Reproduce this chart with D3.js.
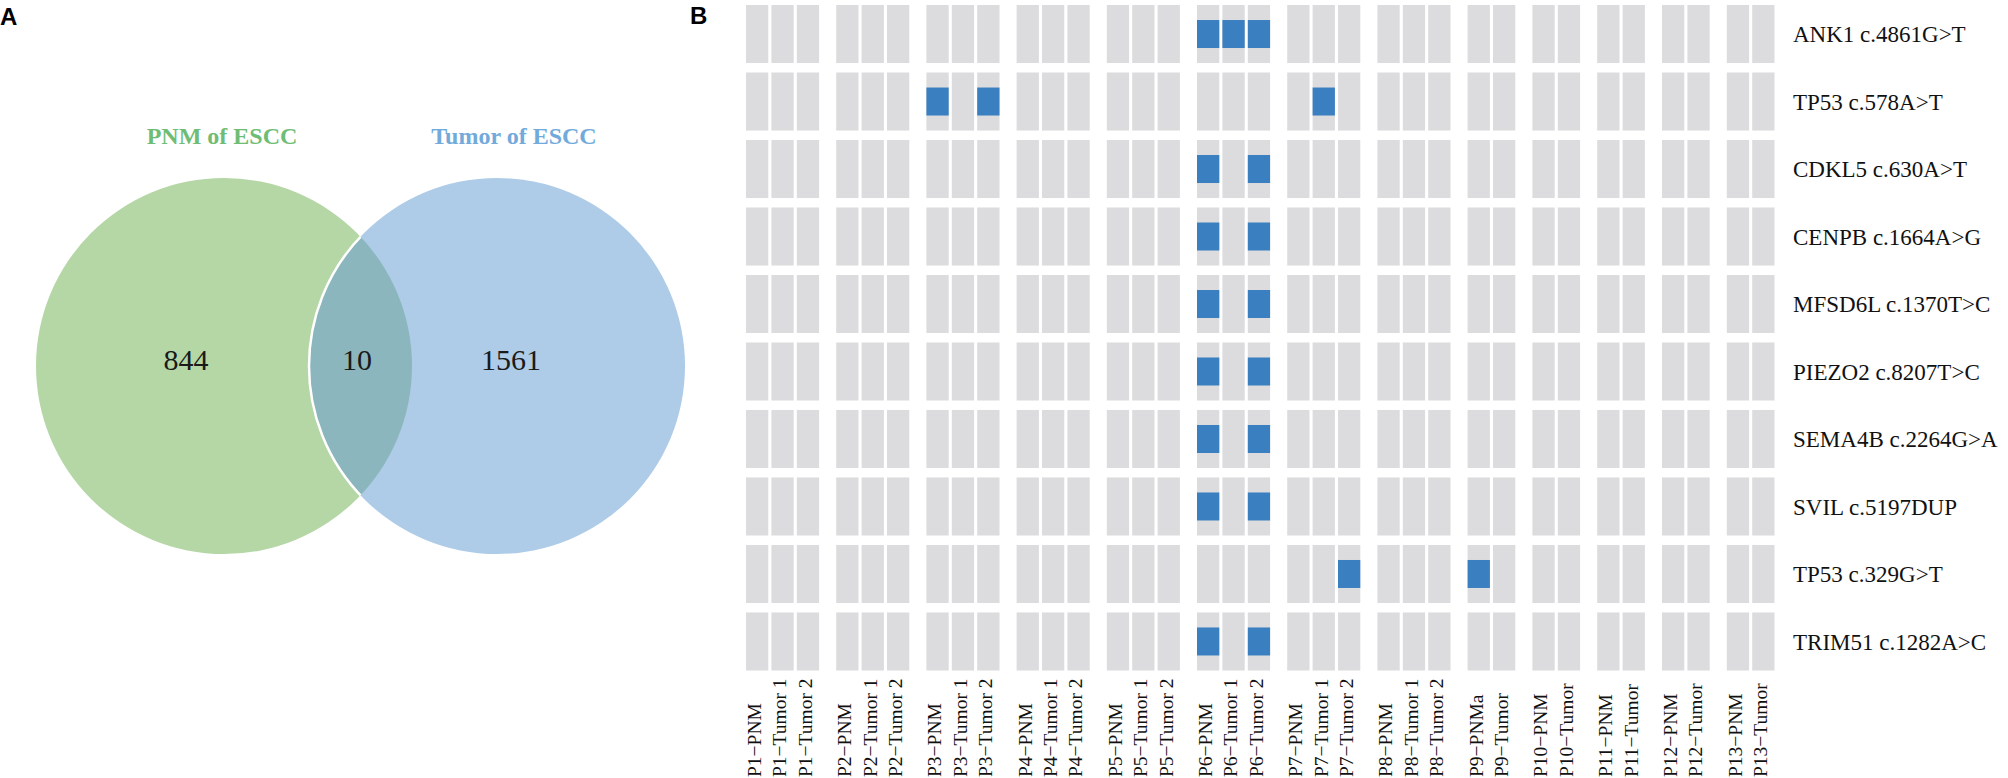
<!DOCTYPE html>
<html><head><meta charset="utf-8">
<script src="https://cdn.jsdelivr.net/npm/d3@7"></script>
<style>body{margin:0;background:#fff;overflow:hidden}</style>
</head><body>
<svg id="c" width="2008" height="778"></svg>
<script>
// ---- Data ----
const vennSets = ["PNM of ESCC", "Tumor of ESCC"];
const vennRegions = ["PNM only", "Both", "Tumor only"];
const vennCounts = [844, 10, 1561];

const patients = ["P1","P2","P3","P4","P5","P6","P7","P8","P9","P10","P11","P12","P13"];
const patientSamples = [
  ["PNM","Tumor 1","Tumor 2"],["PNM","Tumor 1","Tumor 2"],["PNM","Tumor 1","Tumor 2"],
  ["PNM","Tumor 1","Tumor 2"],["PNM","Tumor 1","Tumor 2"],["PNM","Tumor 1","Tumor 2"],
  ["PNM","Tumor 1","Tumor 2"],["PNM","Tumor 1","Tumor 2"],
  ["PNMa","Tumor"],["PNM","Tumor"],["PNM","Tumor"],["PNM","Tumor"],["PNM","Tumor"]
];
const mutations = ["ANK1 c.4861G>T","TP53 c.578A>T","CDKL5 c.630A>T","CENPB c.1664A>G",
  "MFSD6L c.1370T>C","PIEZO2 c.8207T>C","SEMA4B c.2264G>A","SVIL c.5197DUP",
  "TP53 c.329G>T","TRIM51 c.1282A>C"];
const mutatedSamples = [
  ["P6−PNM","P6−Tumor 1","P6−Tumor 2"],
  ["P3−PNM","P3−Tumor 2","P7−Tumor 1"],
  ["P6−PNM","P6−Tumor 2"],
  ["P6−PNM","P6−Tumor 2"],
  ["P6−PNM","P6−Tumor 2"],
  ["P6−PNM","P6−Tumor 2"],
  ["P6−PNM","P6−Tumor 2"],
  ["P6−PNM","P6−Tumor 2"],
  ["P7−Tumor 2","P9−PNMa"],
  ["P6−PNM","P6−Tumor 2"]
];

const serif = "'Liberation Serif','Times New Roman',serif";
const sans = "'Liberation Sans',Arial,sans-serif";
const svg = d3.select("#c");

// ---- Panel letters ----
svg.append("text").attr("x", 0).attr("y", 25).text("A")
  .attr("font-family", sans).attr("font-weight", "bold").attr("font-size", 24);
svg.append("text").attr("x", 690).attr("y", 24).text("B")
  .attr("font-family", sans).attr("font-weight", "bold").attr("font-size", 24);

// ---- Venn ----
const vx = d3.scaleLinear().domain([0, 1]).range([224, 497]);
const r = 188, cy = 366;
const defs = svg.append("defs");
defs.append("clipPath").attr("id", "leftClip").append("circle")
  .attr("cx", vx(0)).attr("cy", cy).attr("r", r);
const venn = svg.append("g");
venn.append("circle").attr("cx", vx(0)).attr("cy", cy).attr("r", r).attr("fill", "#b5d7a6");
venn.append("circle").attr("cx", vx(1)).attr("cy", cy).attr("r", r).attr("fill", "#aecce8");
venn.append("circle").attr("cx", vx(1)).attr("cy", cy).attr("r", r).attr("fill", "#8cb6bd")
  .attr("clip-path", "url(#leftClip)");
venn.append("circle").attr("cx", vx(1)).attr("cy", cy).attr("r", r).attr("fill", "none")
  .attr("stroke", "#fff").attr("stroke-width", 2.5).attr("clip-path", "url(#leftClip)");

const titleX = [222, 514], titleCol = ["#6fbd75", "#72aadb"];
venn.selectAll("text.t").data(vennSets).join("text").attr("class", "t")
  .attr("x", (d, i) => titleX[i]).attr("y", 144).attr("text-anchor", "middle")
  .attr("font-family", serif).attr("font-weight", "bold").attr("font-size", 24)
  .attr("fill", (d, i) => titleCol[i]).text(d => d);
const numX = [186, 357, 511];
venn.selectAll("text.n").data(vennCounts).join("text").attr("class", "n")
  .attr("x", (d, i) => numX[i]).attr("y", 370).attr("text-anchor", "middle")
  .attr("font-family", serif).attr("font-size", 30).attr("fill", "#1a1a1a").text(d => d);

// ---- Heatmap ----
const cols = [];
patients.forEach((p, gi) => patientSamples[gi].forEach(s => cols.push({name: p + "−" + s, gi, ci: cols.length})));
const step = 25.4, gap = 14, gapU = gap / step;
const nUnits = cols.length + (patients.length - 1) * gapU;
const x = d3.scaleLinear().domain([0, nUnits]).range([746, 746 + nUnits * step]);
const cw = step - 3.1;
const colX = c => x(c.ci + c.gi * gapU);
const y = d3.scaleBand().domain(mutations).range([5, 670.5]).paddingInner(0.14);
const bh = 28;

const cells = [];
mutations.forEach((m, ri) => cols.forEach(c => cells.push({m, c, mut: mutatedSamples[ri].includes(c.name)})));
const hm = svg.append("g");
hm.selectAll("rect.bg").data(cells).join("rect").attr("class", "bg")
  .attr("x", d => colX(d.c)).attr("y", d => y(d.m)).attr("width", cw).attr("height", y.bandwidth())
  .attr("fill", "#dcdcde");
hm.selectAll("rect.mu").data(cells.filter(d => d.mut)).join("rect").attr("class", "mu")
  .attr("x", d => colX(d.c)).attr("y", d => y(d.m) + (y.bandwidth() - bh) / 2)
  .attr("width", cw).attr("height", bh).attr("fill", "#3a7fc0");

hm.selectAll("text.rl").data(mutations).join("text").attr("class", "rl")
  .attr("x", 1793).attr("y", d => y(d) + y.bandwidth() / 2).attr("dy", "0.35em")
  .attr("font-family", serif).attr("font-size", 23).attr("fill", "#111").text(d => d);

hm.selectAll("text.cl").data(cols).join("text").attr("class", "cl")
  .attr("transform", d => `translate(${colX(d) + 15},777) rotate(-90)`)
  .attr("text-anchor", "start")
  .attr("font-family", serif).attr("font-size", 19.5).attr("fill", "#111").text(d => d.name);
</script>
</body></html>
